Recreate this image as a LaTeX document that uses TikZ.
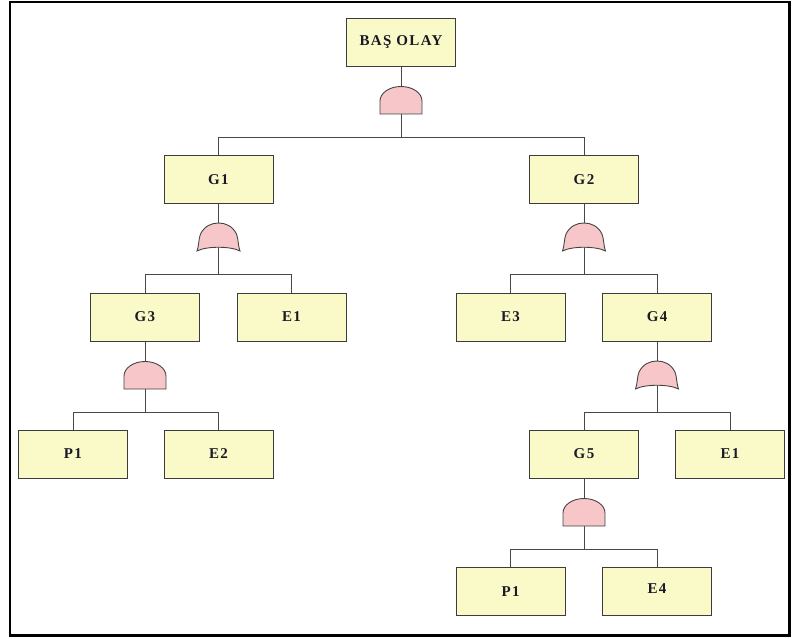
\documentclass[tikz,border=0pt]{standalone}
\usepackage{fontspec}
\setmainfont{Liberation Serif}
\newfontfamily\lblfont{Liberation Serif}[LetterSpace=9]
\usetikzlibrary{backgrounds}
\definecolor{boxfill}{HTML}{FAF9C8}
\definecolor{boxline}{HTML}{3C3C3C}
\definecolor{gatefill}{HTML}{F7C6C8}
\definecolor{gateline}{HTML}{444444}
\definecolor{wirecol}{HTML}{484848}
\definecolor{txt}{HTML}{1A1A26}
\tikzset{
  evbox/.style={draw=boxline, fill=boxfill, line width=1pt, minimum width=109pt,
    minimum height=48pt, inner sep=0pt, text=txt,
    font=\lblfont\bfseries\fontsize{15}{17}\selectfont},
  gatespot/.style={minimum width=42pt, minimum height=28pt, inner sep=0pt, anchor=south},
  wire/.style={draw=wirecol, line width=1pt},
  gateshape/.style={draw=gateline, fill=gatefill, line width=0.9pt},
  andgate/.pic={\path[gateshape] (-21,0) -- (-21,-13) .. controls (-21,-21) and (-11.6,-27.5) .. (0,-27.5) .. controls (11.6,-27.5) and (21,-21) .. (21,-13) -- (21,0) -- cycle;},
  orgate/.pic={\path[gateshape] (-21.5,0) .. controls (-19.5,-5) and (-20,-12) .. (-18,-17) .. controls (-14,-25) and (-7,-28) .. (0,-28) .. controls (7,-28) and (14,-25) .. (18,-17) .. controls (20,-12) and (19.5,-5) .. (21.5,0) .. controls (12,-5) and (-12,-5) .. (-21.5,0) -- cycle;}
}
\begin{document}
\begin{tikzpicture}[x=1pt,y=-1pt]
\useasboundingbox (0,0) rectangle (792,639);
\draw[line width=2.2pt, black] (10,2.2) rectangle (789.5,635.5);

% boxes
\node[evbox] (top) at (401,42.5) {BAŞ OLAY};
\node[evbox] (g1) at (218.5,179.5) {G1};
\node[evbox] (g2) at (584,179.5) {G2};
\node[evbox] (g3) at (145,317) {G3};
\node[evbox] (e1a) at (291.5,317) {E1};
\node[evbox] (e3) at (510.5,317) {E3};
\node[evbox] (g4) at (657,317) {G4};
\node[evbox] (p1a) at (73,454) {P1};
\node[evbox] (e2) at (218.5,454) {E2};
\node[evbox] (g5) at (584,454) {G5};
\node[evbox] (e1b) at (730,454) {E1};
\node[evbox] (p1b) at (510.5,591.7) {P1};
\node[evbox] (e4) at (657,591.7) {\raisebox{3pt}[\height][\depth]{E4}};

% gate positions
\node[gatespot] (gt0) at (401,114) {};
\node[gatespot] (gt1) at (218.5,251) {};
\node[gatespot] (gt2) at (584,251) {};
\node[gatespot] (gt3) at (145,389) {};
\node[gatespot] (gt4) at (657,389) {};
\node[gatespot] (gt5) at (584,526) {};

% bus points
\coordinate (b0) at (401,137.4);
\coordinate (b1) at (218.5,274.8);
\coordinate (b2) at (584,274.8);
\coordinate (b3) at (145,412.2);
\coordinate (b4) at (657,412.2);
\coordinate (b5) at (584,549.6);

\begin{pgfonlayer}{background}
\draw[wire] (top.south) -- (gt0.north);
\draw[wire] (gt0.center) -- (b0);
\draw[wire] (g1.north) |- (b0) -| (g2.north);

\draw[wire] (g1.south) -- (gt1.north);
\draw[wire] (gt1.center) -- (b1);
\draw[wire] (g3.north) |- (b1) -| (e1a.north);

\draw[wire] (g2.south) -- (gt2.north);
\draw[wire] (gt2.center) -- (b2);
\draw[wire] (e3.north) |- (b2) -| (g4.north);

\draw[wire] (g3.south) -- (gt3.north);
\draw[wire] (gt3.center) -- (b3);
\draw[wire] (p1a.north) |- (b3) -| (e2.north);

\draw[wire] (g4.south) -- (gt4.north);
\draw[wire] (gt4.center) -- (b4);
\draw[wire] (g5.north) |- (b4) -| (e1b.north);

\draw[wire] (g5.south) -- (gt5.north);
\draw[wire] (gt5.center) -- (b5);
\draw[wire] (p1b.north) |- (b5) -| (e4.north);
\end{pgfonlayer}

% gates
\pic at (gt0.south) {andgate};
\pic at (gt1.south) {orgate};
\pic at (gt2.south) {orgate};
\pic at (gt3.south) {andgate};
\pic at (gt4.south) {orgate};
\pic at (gt5.south) {andgate};
\end{tikzpicture}
\end{document}
